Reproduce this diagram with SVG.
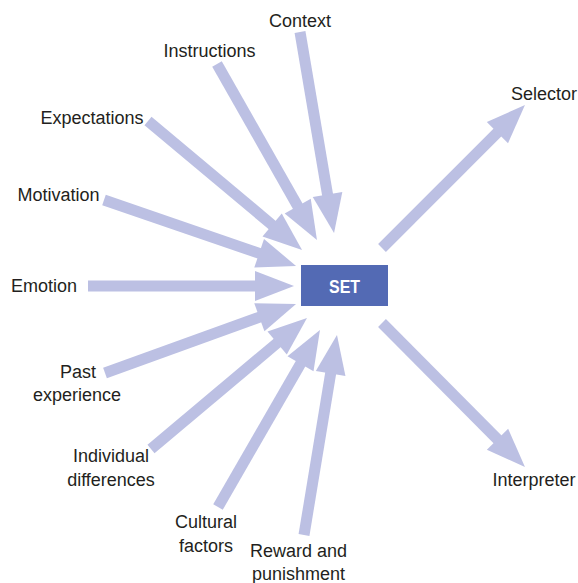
<svg xmlns="http://www.w3.org/2000/svg" width="578" height="583" viewBox="0 0 578 583">
<style>
.lbl{font-family:"Liberation Sans","Noto Sans",sans-serif;font-size:18px;fill:#231f20;text-anchor:middle}
.arr{stroke:#bcc0e3;stroke-width:11;fill:none;marker-end:url(#head)}
.box{fill:#536ab4}
.set{font-family:"Liberation Sans","Noto Sans",sans-serif;font-size:19px;font-weight:bold;fill:#ffffff;text-anchor:middle}
</style>
<defs>
<marker id="head" markerUnits="userSpaceOnUse" viewBox="-1 -15 39 30" refX="0" refY="0" markerWidth="39" markerHeight="30" orient="auto" overflow="visible">
<path d="M-1,-15 L38,0 L-1,15 z" fill="#bcc0e3"/>
</marker>
</defs>
<rect width="578" height="583" fill="#ffffff"/>
<g id="connectors">
<line class="arr" x1="88" y1="286" x2="256" y2="286"/>
<line class="arr" x1="104" y1="200" x2="260.1" y2="253.6"/>
<line class="arr" x1="148" y1="121" x2="272.9" y2="225.6"/>
<line class="arr" x1="217" y1="64" x2="298.2" y2="207"/>
<line class="arr" x1="300" y1="32" x2="327.7" y2="195.5"/>
<line class="arr" x1="105" y1="373" x2="260.3" y2="316.9"/>
<line class="arr" x1="151" y1="449" x2="277.9" y2="342.4"/>
<line class="arr" x1="218" y1="507" x2="301" y2="362.9"/>
<line class="arr" x1="304" y1="535" x2="330.8" y2="372.5"/>
<line class="arr" x1="382" y1="248" x2="498.1" y2="131.9"/>
<line class="arr" x1="382" y1="323" x2="498.2" y2="440"/>
</g>
<g id="set">
<rect class="box" x="301" y="265" width="87" height="41"/>
<text class="set" x="344.5" y="292.5" textLength="31" lengthAdjust="spacingAndGlyphs">SET</text>
</g>
<g id="context"><text class="lbl" x="300" y="27">Context</text></g>
<g id="instructions"><text class="lbl" x="209.5" y="57">Instructions</text></g>
<g id="expectations"><text class="lbl" x="92" y="124">Expectations</text></g>
<g id="motivation"><text class="lbl" x="58.5" y="201">Motivation</text></g>
<g id="emotion"><text class="lbl" x="44" y="292">Emotion</text></g>
<g id="past"><text class="lbl" x="78" y="378">Past</text><text class="lbl" x="77" y="401">experience</text></g>
<g id="individual"><text class="lbl" x="111" y="462">Individual</text><text class="lbl" x="111" y="486">differences</text></g>
<g id="cultural"><text class="lbl" x="206" y="528">Cultural</text><text class="lbl" x="206" y="552">factors</text></g>
<g id="reward"><text class="lbl" x="298.5" y="557">Reward and</text><text class="lbl" x="298.5" y="580">punishment</text></g>
<g id="selector"><text class="lbl" x="544" y="100">Selector</text></g>
<g id="interpreter"><text class="lbl" x="534" y="486">Interpreter</text></g>
</svg>
